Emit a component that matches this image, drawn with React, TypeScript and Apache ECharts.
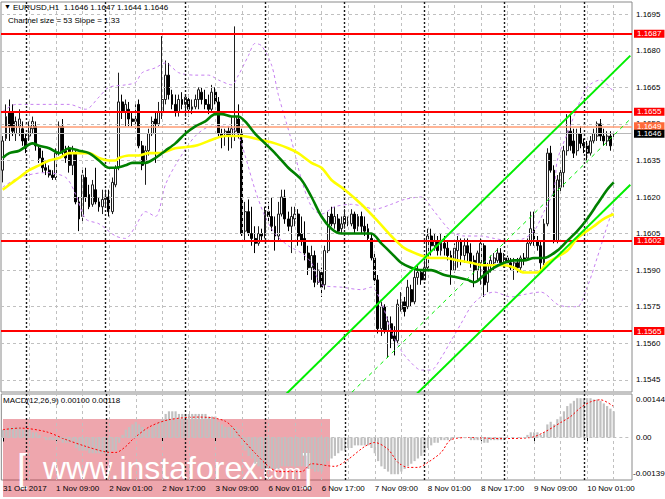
import React, { useEffect, useRef } from "react";
import * as echarts from "echarts";

const FONT = "'Liberation Sans', Arial, sans-serif";
const SLOTS = 190;

const symbolName = "EURUSD,H1";
const channelInfo = "Channel size = 53 Slope = 1.33";
const macdName = "MACD(12,26,9)";

const timeLabels = [
  "31 Oct 2017", "1 Nov 09:00", "2 Nov 01:00", "2 Nov 17:00", "3 Nov 09:00", "6 Nov 01:00",
  "6 Nov 17:00", "7 Nov 09:00", "8 Nov 01:00", "8 Nov 17:00", "9 Nov 09:00", "10 Nov 01:00",
];
const priceTicks = [1.1545, 1.156, 1.1575, 1.159, 1.1605, 1.162, 1.1635, 1.165, 1.1665, 1.168, 1.1695];
const levels = [1.1687, 1.1655, 1.1602, 1.1565];
const askPrice = 1.1649;
const bidPrice = 1.1646;
const daySeparators = [7, 31, 55, 79, 103, 127, 151, 175];
const macdScale = [0.00144, 0, -0.00139];

// [open, close, low, high]
const candles = [
  [1.1631,1.1643,1.1626,1.1645],[1.1644,1.1653,1.1643,1.1658],[1.1655,1.1649,1.1643,1.1660],[1.1655,1.1647,1.1645,1.1658],
  [1.1646,1.1651,1.1643,1.1653],[1.1649,1.1652,1.1645,1.1656],[1.1648,1.1643,1.1641,1.1651],[1.1644,1.1640,1.1638,1.1646],
  [1.1645,1.1649,1.1643,1.1651],[1.1648,1.1651,1.1646,1.1653],[1.1649,1.1641,1.1639,1.1651],[1.1640,1.1636,1.1634,1.1641],
  [1.1636,1.1632,1.1630,1.1639],[1.1632,1.1631,1.1629,1.1634],[1.1631,1.1629,1.1628,1.1633],[1.1629,1.1628,1.1627,1.1631],
  [1.1628,1.1638,1.1627,1.1640],[1.1638,1.1649,1.1637,1.1651],[1.1649,1.1639,1.1637,1.1652],[1.1639,1.1636,1.1634,1.1641],
  [1.1640,1.1633,1.1630,1.1641],[1.1633,1.1638,1.1629,1.1641],[1.1638,1.1618,1.1617,1.1639],[1.1618,1.1611,1.1606,1.1620],
  [1.1612,1.1629,1.1610,1.1632],[1.1628,1.1620,1.1618,1.1632],[1.1621,1.1616,1.1615,1.1625],[1.1617,1.1625,1.1616,1.1627],
  [1.1623,1.1618,1.1617,1.1632],[1.1618,1.1616,1.1614,1.1620],[1.1616,1.1619,1.1613,1.1623],[1.1619,1.1620,1.1616,1.1623],
  [1.1620,1.1614,1.1612,1.1623],[1.1614,1.1626,1.1613,1.1628],[1.1625,1.1632,1.1624,1.1633],[1.1632,1.1659,1.1631,1.1671],
  [1.1659,1.1655,1.1652,1.1662],[1.1655,1.1658,1.1649,1.1660],[1.1656,1.1652,1.1649,1.1659],[1.1652,1.1651,1.1649,1.1655],
  [1.1651,1.1652,1.1648,1.1658],[1.1658,1.1641,1.1640,1.1660],[1.1641,1.1633,1.1631,1.1643],[1.1634,1.1639,1.1625,1.1641],
  [1.1639,1.1646,1.1637,1.1648],[1.1646,1.1651,1.1645,1.1653],[1.1652,1.1650,1.1634,1.1655],[1.1650,1.1655,1.1649,1.1659],
  [1.1655,1.1660,1.1652,1.1686],[1.1660,1.1670,1.1658,1.1676],[1.1670,1.1662,1.1660,1.1675],[1.1662,1.1658,1.1656,1.1664],
  [1.1658,1.1655,1.1653,1.1662],[1.1655,1.1660,1.1653,1.1662],[1.1660,1.1658,1.1656,1.1663],[1.1658,1.1661,1.1653,1.1662],
  [1.1660,1.1656,1.1653,1.1662],[1.1656,1.1657,1.1654,1.1660],[1.1657,1.1660,1.1656,1.1662],[1.1660,1.1664,1.1656,1.1665],
  [1.1663,1.1660,1.1658,1.1665],[1.1660,1.1658,1.1656,1.1664],[1.1658,1.1656,1.1654,1.1662],[1.1656,1.1663,1.1655,1.1666],
  [1.1663,1.1659,1.1658,1.1665],[1.1659,1.1646,1.1645,1.1661],[1.1646,1.1645,1.1640,1.1648],[1.1645,1.1647,1.1641,1.1648],
  [1.1647,1.1645,1.1639,1.1649],[1.1645,1.1648,1.1640,1.1653],[1.1647,1.1653,1.1643,1.1690],[1.1652,1.1646,1.1644,1.1658],
  [1.1646,1.1605,1.1604,1.1648],[1.1606,1.1614,1.1602,1.1618],[1.1614,1.1605,1.1604,1.1619],[1.1605,1.1603,1.1600,1.1616],
  [1.1603,1.1601,1.1597,1.1608],[1.1601,1.1605,1.1600,1.1608],[1.1605,1.1604,1.1602,1.1607],[1.1605,1.1614,1.1603,1.1616],
  [1.1614,1.1612,1.1610,1.1618],[1.1612,1.1608,1.1606,1.1620],[1.1608,1.1604,1.1598,1.1612],[1.1604,1.1613,1.1602,1.1618],
  [1.1613,1.1620,1.1612,1.1623],[1.1620,1.1611,1.1609,1.1623],[1.1611,1.1608,1.1606,1.1614],[1.1608,1.1612,1.1597,1.1616],
  [1.1611,1.1613,1.1608,1.1616],[1.1613,1.1604,1.1600,1.1615],[1.1605,1.1602,1.1600,1.1612],[1.1603,1.1597,1.1594,1.1610],
  [1.1597,1.1591,1.1588,1.1600],[1.1591,1.1596,1.1586,1.1600],[1.1596,1.1585,1.1583,1.1598],[1.1585,1.1590,1.1584,1.1593],
  [1.1589,1.1583,1.1579,1.1591],[1.1584,1.1598,1.1582,1.1600],[1.1598,1.1612,1.1597,1.1614],[1.1613,1.1609,1.1608,1.1616],
  [1.1609,1.1612,1.1607,1.1616],[1.1611,1.1606,1.1605,1.1613],[1.1607,1.1609,1.1605,1.1612],[1.1609,1.1612,1.1607,1.1615],
  [1.1609,1.1610,1.1608,1.1612],[1.1609,1.1613,1.1608,1.1615],[1.1613,1.1607,1.1605,1.1614],[1.1608,1.1612,1.1606,1.1613],
  [1.1612,1.1608,1.1605,1.1614],[1.1608,1.1606,1.1604,1.1612],[1.1607,1.1603,1.1602,1.1609],[1.1603,1.1595,1.1594,1.1605],
  [1.1595,1.1586,1.1584,1.1597],[1.1586,1.1566,1.1564,1.1588],[1.1566,1.1575,1.1563,1.1577],[1.1575,1.1565,1.1564,1.1576],
  [1.1565,1.1569,1.1554,1.1571],[1.1568,1.1562,1.1558,1.1571],[1.1563,1.1561,1.1555,1.1567],[1.1561,1.1576,1.1560,1.1578],
  [1.1574,1.1577,1.1573,1.1581],[1.1577,1.1573,1.1571,1.1579],[1.1575,1.1583,1.1574,1.1586],[1.1582,1.1577,1.1575,1.1584],
  [1.1577,1.1587,1.1576,1.1590],[1.1587,1.1589,1.1584,1.1592],[1.1589,1.1586,1.1584,1.1590],[1.1586,1.1591,1.1586,1.1594],
  [1.1591,1.1604,1.1590,1.1607],[1.1604,1.1600,1.1596,1.1607],[1.1600,1.1602,1.1598,1.1605],[1.1602,1.1598,1.1596,1.1604],
  [1.1598,1.1602,1.1596,1.1605],[1.1601,1.1599,1.1596,1.1604],[1.1599,1.1596,1.1594,1.1602],[1.1596,1.1590,1.1584,1.1598],
  [1.1590,1.1599,1.1589,1.1601],[1.1598,1.1602,1.1591,1.1604],[1.1602,1.1596,1.1592,1.1603],[1.1596,1.1600,1.1593,1.1603],
  [1.1600,1.1597,1.1593,1.1603],[1.1597,1.1593,1.1591,1.1601],[1.1594,1.1590,1.1583,1.1596],[1.1590,1.1597,1.1586,1.1598],
  [1.1593,1.1601,1.1584,1.1603],[1.1600,1.1584,1.1579,1.1601],[1.1585,1.1592,1.1581,1.1593],[1.1592,1.1594,1.1589,1.1596],
  [1.1593,1.1595,1.1590,1.1597],[1.1594,1.1597,1.1593,1.1599],[1.1597,1.1593,1.1592,1.1599],[1.1593,1.1595,1.1591,1.1597],
  [1.1595,1.1593,1.1592,1.1596],[1.1593,1.1591,1.1590,1.1595],[1.1591,1.1593,1.1586,1.1595],[1.1593,1.1591,1.1589,1.1595],
  [1.1591,1.1595,1.1589,1.1596],[1.1595,1.1594,1.1592,1.1597],[1.1595,1.1601,1.1594,1.1603],[1.1601,1.1607,1.1600,1.1614],
  [1.1607,1.1602,1.1600,1.1614],[1.1602,1.1600,1.1598,1.1604],[1.1600,1.1593,1.1590,1.1602],[1.1593,1.1609,1.1592,1.1611],
  [1.1609,1.1638,1.1608,1.1640],[1.1638,1.1631,1.1630,1.1641],[1.1631,1.1602,1.1601,1.1633],[1.1602,1.1627,1.1601,1.1629],
  [1.1624,1.1630,1.1622,1.1632],[1.1630,1.1639,1.1624,1.1641],[1.1639,1.1647,1.1637,1.1654],[1.1647,1.1641,1.1639,1.1654],
  [1.1643,1.1638,1.1636,1.1648],[1.1639,1.1646,1.1637,1.1648],[1.1646,1.1642,1.1640,1.1649],[1.1642,1.1641,1.1638,1.1644],
  [1.1641,1.1638,1.1635,1.1643],[1.1638,1.1643,1.1637,1.1645],[1.1643,1.1646,1.1642,1.1648],[1.1645,1.1650,1.1643,1.1651],
  [1.1650,1.1645,1.1643,1.1652],[1.1645,1.1643,1.1641,1.1648],[1.1643,1.1645,1.1641,1.1647],[1.1645,1.1641,1.1639,1.1647],
  [1.1646,1.1646,1.1644,1.1647],
];

// green moving average, [bar, price]
const maGreen = [
  [0,1.1636],[2,1.1638],[5,1.1639],[9,1.1642],[11,1.1641],[14,1.1640],[17,1.1638],[20,1.1640],[23,1.1639],[26,1.1638],
  [29,1.1635],[32,1.1632],[34,1.1632],[37,1.1633],[39,1.1634],[43,1.1634],[46,1.1636],[49,1.1639],[52,1.1642],[55,1.1646],
  [58,1.1649],[61,1.1651],[64,1.1654],[66,1.1654],[69,1.1653],[71,1.1653],[73,1.1651],[76,1.1646],[79,1.1642],[82,1.1638],
  [86,1.1632],[90,1.1627],[93,1.1620],[96,1.1612],[99,1.1607],[102,1.1605],[105,1.1605],[108,1.1605],[111,1.1605],[114,1.1601],
  [117,1.1597],[120,1.1593],[123,1.1591],[126,1.1590],[129,1.1590],[133,1.1588],[137,1.1587],[140,1.1586],[142,1.1585],[145,1.1588],
  [148,1.1591],[151,1.1593],[154,1.1594],[157,1.1594],[160,1.1595],[163,1.1595],[167,1.1598],[170,1.1602],[173,1.1606],[176,1.1611],
  [179,1.1617],[182,1.1623],[184,1.1626],
];
// yellow moving average, [bar, price]
const maYellow = [
  [0,1.1623],[2,1.1625],[5,1.1628],[8,1.1631],[11,1.1633],[14,1.1635],[17,1.1636],[20,1.1638],[23,1.1638],[26,1.1638],
  [29,1.1636],[32,1.1635],[34,1.1635],[35,1.1636],[38,1.1637],[41,1.1637],[44,1.1638],[47,1.1638],[52,1.1640],[58,1.1641],
  [64,1.1644],[67,1.1645],[72,1.1645],[76,1.1644],[82,1.1642],[86,1.1640],[89,1.1638],[93,1.1634],[96,1.1632],[99,1.1627],
  [103,1.1623],[108,1.1617],[113,1.1610],[117,1.1604],[121,1.1599],[126,1.1596],[129,1.1595],[133,1.1595],[137,1.1594],[141,1.1593],
  [145,1.1592],[151,1.1592],[154,1.1591],[157,1.1589],[161,1.1589],[164,1.1593],[170,1.1598],[173,1.1603],[178,1.1608],[181,1.1611],
  [184,1.1613],
];
const bandUpper = [
  [0,1.1655],[4,1.1658],[8,1.1658],[14,1.1658],[20,1.1658],[25,1.1656],[29,1.1661],[32,1.1665],[37,1.1666],[40,1.1667],
  [42,1.1671],[46,1.1673],[49,1.1675],[53,1.1671],[58,1.1670],[62,1.1670],[65,1.1668],[69,1.1666],[71,1.1670],[74,1.1678],
  [76,1.1683],[78,1.1682],[81,1.1674],[83,1.1662],[87,1.1643],[90,1.1627],[93,1.1616],[96,1.1613],[100,1.1616],[105,1.1617],
  [109,1.1616],[112,1.1615],[117,1.1617],[121,1.1619],[126,1.1620],[130,1.1614],[135,1.1606],[139,1.1604],[144,1.1604],[148,1.1603],
  [153,1.1602],[157,1.1603],[160,1.1606],[163,1.1614],[166,1.1623],[167,1.1635],[170,1.1646],[172,1.1653],[176,1.1665],[180,1.1668],
  [184,1.1663],
];
const bandLower = [
  [0,1.1624],[5,1.1628],[13,1.1630],[19,1.1628],[22,1.1621],[25,1.1611],[29,1.1609],[34,1.1604],[37,1.1603],[40,1.1608],
  [43,1.1614],[46,1.1612],[49,1.1625],[52,1.1633],[58,1.1645],[63,1.1649],[68,1.1649],[71,1.1645],[73,1.1637],[76,1.1623],
  [79,1.1612],[82,1.1605],[86,1.1600],[90,1.1597],[93,1.1593],[96,1.1584],[102,1.1583],[108,1.1582],[111,1.1583],[114,1.1577],
  [117,1.1565],[120,1.1557],[123,1.1552],[126,1.1549],[129,1.1549],[132,1.1554],[135,1.1561],[138,1.1568],[141,1.1575],[144,1.1579],
  [148,1.1581],[153,1.1579],[157,1.1580],[162,1.1581],[167,1.1576],[170,1.1575],[173,1.1575],[176,1.1583],[179,1.1595],[182,1.1608],
  [184,1.1616],
];
const channelUpper = [[80,1.1532],[189,1.1678]];
const channelMiddle = [[100,1.1533],[189,1.1652]];
const channelLower = [[120,1.1533],[189,1.1625]];

const macdHist = [
  0.0003,0.0003,0.0004,0.0004,0.0004,0.0004,
  0.0003,0.0003,0.0003,0.0002,0.0002,0.0001,0.0000,
  -0.0001,-0.0001,-0.0001,-0.0001,-0.0001,-0.0002,
  -0.0002,-0.0002,-0.0002,
  -0.0004,-0.0005,-0.0005,-0.0005,-0.0006,-0.0006,-0.0006,-0.0006,-0.0006,-0.0006,-0.0006,-0.0005,-0.0005,
  -0.0002,
  0.0001,0.0003,0.0004,0.0005,0.0006,0.0005,0.0004,0.0003,0.0003,0.0004,
  0.0005,0.0006,0.0007,0.0009,0.0010,0.0010,0.0010,0.0009,0.0009,0.0009,0.0009,0.0009,0.0009,0.0009,0.0009,
  0.0009,0.0008,0.0008,0.0008,0.0006,0.0005,0.0004,0.0004,0.0004,0.0004,0.0003,
  -0.0003,-0.0005,-0.0007,-0.0008,-0.0010,-0.0011,-0.0012,-0.0012,-0.0012,
  -0.0012,-0.0012,-0.0012,-0.0011,-0.0011,-0.0011,-0.0011,-0.0011,-0.0011,-0.0011,-0.0011,-0.0012,-0.0012,-0.0013,-0.0013,
  -0.0013,-0.0011,-0.0009,-0.0008,-0.0007,
  -0.0006,-0.0005,-0.0005,-0.0004,-0.0004,-0.0003,-0.0003,-0.0003,-0.0003,-0.0003,
  -0.0004,-0.0006,-0.0009,-0.0011,-0.0012,-0.0013,-0.0014,-0.0014,-0.0014,-0.0013,
  -0.0012,-0.0011,-0.0010,-0.0009,-0.0008,-0.0007,-0.0006,-0.0004,-0.0003,-0.0002,
  -0.0002,-0.0001,-0.0001,-0.0001,-0.0001,0.0000,0.0000,0.0000,0.0000,0.0000,
  -0.0001,-0.0001,-0.0001,-0.0001,-0.0002,-0.0002,-0.0001,-0.0001,-0.0001,-0.0001,-0.0001,0.0000,0.0000,0.0000,0.0000,
  0.0000,0.0000,0.0001,0.0002,0.0002,0.0002,0.0001,0.0002,
  0.0005,0.0006,0.0005,0.0007,0.0008,0.0010,0.0012,0.0013,0.0014,0.0015,0.0015,0.0015,
  0.0015,0.0015,0.00145,0.00145,0.0014,0.0013,0.0012,0.0011,0.0010,
];
const macdSignal = [
  [0,0.0003],[5,0.00036],[13,0.00022],[19,-0.00008],[25,-0.00034],[31,-0.00055],[34,-0.00057],[37,-0.00034],[39,-0.00008],
  [44,0.0004],[50,0.00068],[59,0.00078],[67,0.00062],[72,-0.00005],[76,-0.0006],[80,-0.0011],[83,-0.0013],[90,-0.0013],
  [93,-0.001],[100,-0.0011],[104,-0.00083],[109,-0.00034],[112,-0.00019],[116,-0.00045],[119,-0.00095],[122,-0.00114],
  [125,-0.00114],[128,-0.00095],[132,-0.00057],[135,-0.00008],[141,0],[150,-0.00004],[159,0],[163,0.0002],[168,0.00057],
  [171,0.0008],[174,0.00114],[177,0.00136],[180,0.00144],[184,0.00118],
];

function verticalLines() {
  const out: any[] = [];
  for (let i = 8; i < SLOTS; i += 8) {
    out.push({ xAxis: i, lineStyle: { color: "#c0c0c0", type: [3, 3], width: 1 }, label: { show: false } });
  }
  daySeparators.forEach((d) => {
    out.push({ xAxis: d, lineStyle: { color: "#1a1a1a", type: [2, 2], width: 1.4 }, label: { show: false } });
  });
  return out;
}

function buildOption() {
  const categories = Array.from({ length: SLOTS }, (_, i) => String(i));
  const last = candles[candles.length - 1];
  const f4 = (v: number) => v.toFixed(4);
  const lblBase = { show: true, position: "end", formatter: "{b}", fontSize: 8, fontFamily: FONT, distance: 4 };
  const boxLbl = { ...lblBase, distance: 2, color: "#fff", padding: [0, 3, 0, 3], lineHeight: 8 };

  const gridMain = {
    type: "line", xAxisIndex: 0, yAxisIndex: 0, data: [], z: 1, silent: true,
    markLine: {
      silent: true, symbol: ["none", "none"], animation: false, precision: 6,
      data: [
        ...priceTicks.map((v) => ({
          yAxis: v, name: f4(v),
          lineStyle: { color: "#c0c0c0", type: [3, 3], width: 1 },
          label: { ...lblBase, color: "#000" },
        })),
        ...verticalLines(),
      ],
    },
  };

  const levelSeries = {
    type: "line", xAxisIndex: 0, yAxisIndex: 0, data: [], z: 8, silent: true,
    markLine: {
      silent: true, symbol: ["none", "none"], animation: false, precision: 6,
      data: [
        { yAxis: askPrice, name: f4(askPrice), lineStyle: { color: "#ff9c74", type: "solid", width: 1.5 },
          label: { ...boxLbl, backgroundColor: "#ff6a3a" } },
        { yAxis: bidPrice, name: f4(bidPrice), lineStyle: { color: "#b8b8b8", type: "solid", width: 1 },
          label: { ...boxLbl, backgroundColor: "#000" } },
        ...levels.map((v) => ({
          yAxis: v, name: f4(v), lineStyle: { color: "#ff0000", type: "solid", width: 2 },
          label: { ...boxLbl, backgroundColor: "#ff0000" },
        })),
      ],
    },
  };

  const gridMacd = {
    type: "line", xAxisIndex: 1, yAxisIndex: 1, data: [], z: 1, silent: true,
    markLine: {
      silent: true, symbol: ["none", "none"], animation: false, precision: 8,
      data: [
        ...macdScale.map((v) => ({
          yAxis: v, name: v === 0 ? "0.00" : v.toFixed(5),
          lineStyle: v === 0 ? { color: "#c0c0c0", type: [3, 3], width: 1 } : { color: "rgba(0,0,0,0)", width: 0 },
          label: { ...lblBase, color: "#000", distance: v < 0 ? 1 : 4 },
        })),
        ...verticalLines(),
      ],
    },
  };

  const lineCommon = { type: "line", xAxisIndex: 0, yAxisIndex: 0, showSymbol: false, silent: true, clip: true };

  const series: any[] = [
    gridMain,
    gridMacd,
    {
      type: "candlestick", name: "EURUSD", xAxisIndex: 0, yAxisIndex: 0, data: candles, z: 3,
      barWidth: 2.4, silent: true,
      itemStyle: { color: "#ffffff", color0: "#000000", borderColor: "#1e1e1e", borderColor0: "#000000", borderWidth: 1 },
    },
    { ...lineCommon, name: "bandUpper", data: bandUpper, smooth: 0.3, z: 4, lineStyle: { color: "#c67ff0", width: 1, type: [3, 3] } },
    { ...lineCommon, name: "bandLower", data: bandLower, smooth: 0.3, z: 4, lineStyle: { color: "#c67ff0", width: 1, type: [3, 3] } },
    { ...lineCommon, name: "maYellow", data: maYellow, smooth: 0.3, z: 5, lineStyle: { color: "#ffff00", width: 2.6 } },
    { ...lineCommon, name: "maGreen", data: maGreen, smooth: 0.3, z: 6, lineStyle: { color: "#008000", width: 2.6 } },
    { ...lineCommon, name: "chUpper", data: channelUpper, z: 7, lineStyle: { color: "#00ee00", width: 2 } },
    { ...lineCommon, name: "chMiddle", data: channelMiddle, z: 7, lineStyle: { color: "#00ee00", width: 1, type: [4, 4] } },
    { ...lineCommon, name: "chLower", data: channelLower, z: 7, lineStyle: { color: "#00ee00", width: 2 } },
    levelSeries,
    {
      type: "bar", name: "MACD", xAxisIndex: 1, yAxisIndex: 1, data: macdHist, z: 2, silent: true,
      barWidth: 2.2, itemStyle: { color: "#c0c0c0" },
    },
    {
      type: "line", name: "Signal", xAxisIndex: 1, yAxisIndex: 1, data: macdSignal, z: 3, silent: true,
      showSymbol: false, smooth: 0.3, lineStyle: { color: "#ff0000", width: 1, type: [2, 2] },
    },
  ];

  const tickFn = (i: number) => i % 16 === 0;

  return {
    animation: false,
    backgroundColor: "#ffffff",
    textStyle: { fontFamily: FONT },
    grid: [
      { left: 1, top: 2, width: 631, height: 390, show: true, borderColor: "#8a8a8a", borderWidth: 1 },
      { left: 1, top: 394, width: 631, height: 86, show: true, borderColor: "#8a8a8a", borderWidth: 1 },
    ],
    xAxis: [
      { type: "category", gridIndex: 0, data: categories, axisLine: { show: false }, axisTick: { show: false },
        axisLabel: { show: false }, splitLine: { show: false } },
      { type: "category", gridIndex: 1, data: categories, axisLine: { show: false },
        axisTick: { show: true, alignWithLabel: true, interval: tickFn, length: 4, lineStyle: { color: "#000" } },
        axisLabel: { show: true, interval: tickFn, align: "left", margin: 4, fontSize: 8, fontFamily: FONT, color: "#000",
          formatter: (_v: string, i: number) => timeLabels[i / 16] ?? "" },
        splitLine: { show: false } },
    ],
    yAxis: [
      { type: "value", gridIndex: 0, min: 1.154, max: 1.17, show: false },
      { type: "value", gridIndex: 1, min: -0.00162, max: 0.00166, show: false },
    ],
    series,
    graphic: [
      { type: "text", x: 4, y: 3, z: 50, style: { text: "▼", fill: "#000", fontSize: 7, fontFamily: FONT } },
      { type: "text", x: 13, y: 3, z: 50, style: {
          text: `${symbolName}  ${f4(last[0])} ${f4(last[3])} ${f4(last[2])} ${f4(last[1])}`,
          fill: "#000", fontSize: 8, fontFamily: FONT } },
      { type: "text", x: 8, y: 16, z: 50, style: { text: channelInfo, fill: "#000", fontSize: 8, fontFamily: FONT } },
      { type: "text", x: 3, y: 396, z: 50, style: {
          text: `${macdName} ${macdHist[macdHist.length - 1].toFixed(5)} ${macdSignal[macdSignal.length - 1][1].toFixed(5)}`,
          fill: "#000", fontSize: 8, fontFamily: FONT } },
      { type: "group", z: 100, children: [
        { type: "rect", shape: { x: 3, y: 419, width: 327, height: 78 }, style: { fill: "rgba(214,44,60,0.42)" } },
        { type: "text", x: 17, y: 487, style: { text: "[", fill: "#fff", fontSize: 38, fontWeight: "lighter", fontFamily: FONT, verticalAlign: "bottom" } },
        { type: "text", x: 43, y: 484, style: { text: "www.instaforex", fill: "#fff", fontSize: 32, fontFamily: FONT, verticalAlign: "bottom" } },
        { type: "text", x: 258, y: 482, style: { text: ".com", fill: "#fff", fontSize: 20, fontFamily: FONT, verticalAlign: "bottom" } },
        { type: "text", x: 302, y: 487, style: { text: "]", fill: "#fff", fontSize: 38, fontWeight: "lighter", fontFamily: FONT, verticalAlign: "bottom" } },
      ] },
    ],
  };
}

export default function App() {
  const ref = useRef<HTMLDivElement>(null);
  useEffect(() => {
    if (!ref.current) return;
    const chart = echarts.init(ref.current, null, { renderer: "svg" });
    chart.setOption(buildOption() as any);
    return () => chart.dispose();
  }, []);
  return <div ref={ref} style={{ position: "fixed", left: 0, top: 0, width: 665, height: 499 }} />;
}
